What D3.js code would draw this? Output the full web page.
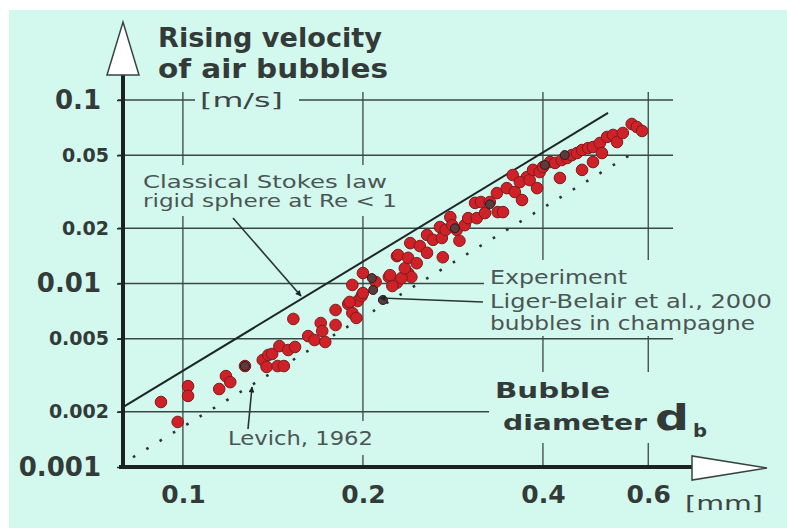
<!DOCTYPE html>
<html>
<head>
<meta charset="utf-8">
<script src="https://cdn.jsdelivr.net/npm/d3@7"></script>
<style>
body { margin: 0; background: #fff; }
svg { display: block; font-family: "DejaVu Sans", sans-serif; }
</style>
</head>
<body>
<div id="vis"></div>
<script>
const FRAME_WIDTH = 787;
const FRAME_HEIGHT = 531;
const MARGINS = {left: 123, right: 114, top: 100, bottom: 64};

const BG = "#d3f8ee";
const INK = "#27302e";
const SOFT = "#4b5553";

// measured bubbles (mm, m/s)
const bubbleDiameter = [0.0919, 0.098, 0.102, 0.102, 0.115, 0.118, 0.120, 0.127, 0.136, 0.138,
  0.139, 0.141, 0.144, 0.1475, 0.145, 0.150, 0.154, 0.153, 0.162, 0.166, 0.173, 0.170, 0.171,
  0.180, 0.180, 0.189, 0.192, 0.195, 0.196, 0.199, 0.192, 0.200, 0.210, 0.221, 0.228, 0.228,
  0.238, 0.241, 0.224, 0.200, 0.190, 0.222, 0.232, 0.235, 0.229, 0.238, 0.246, 0.240, 0.249,
  0.256, 0.272, 0.256, 0.262, 0.271, 0.269, 0.275, 0.280, 0.282, 0.287, 0.290, 0.296, 0.300,
  0.310, 0.320, 0.308, 0.315, 0.326, 0.335, 0.336, 0.348, 0.359, 0.356, 0.343, 0.369, 0.376,
  0.366, 0.380, 0.391, 0.385, 0.395, 0.400, 0.411, 0.419, 0.430, 0.439, 0.427, 0.447, 0.456,
  0.465, 0.465, 0.476, 0.485, 0.498, 0.502, 0.485, 0.512, 0.524, 0.532, 0.544, 0.563, 0.574, 0.586];
const risingVelocity = [0.00226, 0.00176, 0.00276, 0.00244, 0.00266, 0.00313, 0.0029, 0.00355, 0.00383, 0.00351,
  0.00408, 0.00413, 0.00355, 0.00355, 0.00456, 0.00434, 0.00451, 0.00641, 0.00517, 0.00492, 0.0048, 0.00609, 0.00551,
  0.00594, 0.00717, 0.00773, 0.00691, 0.00649, 0.00803, 0.00855, 0.00982, 0.0114, 0.0102, 0.01085, 0.0141, 0.0101,
  0.0114, 0.01085, 0.00969, 0.00887, 0.00793, 0.0111, 0.0107, 0.0121, 0.0143, 0.0138, 0.0129, 0.0166, 0.016,
  0.0147, 0.0139, 0.0184, 0.0173, 0.0177, 0.0203, 0.0196, 0.023, 0.0208, 0.0196, 0.0171, 0.0208, 0.0227,
  0.0227, 0.0242, 0.0275, 0.0278, 0.0278, 0.0311, 0.0245, 0.0331, 0.0315, 0.039, 0.0245, 0.0285, 0.038,
  0.0357, 0.0366, 0.0331, 0.0416, 0.0405, 0.0431, 0.0459, 0.0454, 0.0471, 0.0483, 0.0376, 0.0501, 0.0514,
  0.0534, 0.0416, 0.0547, 0.0554, 0.0583, 0.0514, 0.0459, 0.0629, 0.0645, 0.059, 0.0661, 0.074, 0.0713, 0.0678];

// darker overlapping bubbles
const darkDiameter = [0.127, 0.207, 0.208, 0.216, 0.285, 0.326, 0.403, 0.435];
const darkVelocity = [0.00355, 0.0107, 0.00922, 0.00813, 0.020, 0.027, 0.0442, 0.0501];

// theory lines, end points
const stokesD = [0.0794, 0.514];
const stokesV = [0.00212, 0.085];
const levichD = [0.0825, 0.575];
const levichV = [0.00113, 0.053];

const xTicks = [0.1, 0.2, 0.4, 0.6];
const xTickLabels = ["0.1", "0.2", "0.4", "0.6"];
const yTicks = [0.001, 0.002, 0.005, 0.01, 0.02, 0.05, 0.1];
const yTickLabels = ["0.001", "0.002", "0.005", "0.01", "0.02", "0.05", "0.1"];

const X0 = MARGINS.left, X1 = FRAME_WIDTH - MARGINS.right;
const Y0 = FRAME_HEIGHT - MARGINS.bottom, Y1 = MARGINS.top;

const svg = d3.select("#vis").append("svg")
  .attr("width", FRAME_WIDTH)
  .attr("height", FRAME_HEIGHT);

svg.append("rect")
  .attr("x", 9).attr("y", 10)
  .attr("width", FRAME_WIDTH - 9).attr("height", 518)
  .attr("fill", BG);

const X = d3.scaleLog().domain([0.0794, 0.66]).range([X0, X1]);
const Y = d3.scaleLog().domain([0.001, 0.1]).range([Y0, Y1]);

// grid
svg.append("g").selectAll("line").data(xTicks).enter().append("line")
  .attr("x1", d => X(d)).attr("x2", d => X(d))
  .attr("y1", Y1 - 8).attr("y2", Y0)
  .attr("stroke", "#3b4745").attr("stroke-width", 1.3);

svg.append("g").selectAll("line").data(yTicks.slice(1)).enter().append("line")
  .attr("x1", X0 - 5).attr("x2", X1)
  .attr("y1", d => Y(d)).attr("y2", d => Y(d))
  .attr("stroke", "#3b4745").attr("stroke-width", 1.3);

// y axis labels
const yAxis = svg.append("g")
  .attr("transform", "translate(" + X0 + ",0)")
  .call(d3.axisLeft(Y).tickValues(yTicks)
    .tickFormat((d, i) => yTickLabels[i]).tickSize(6).tickPadding(7));
yAxis.select(".domain").remove();
yAxis.selectAll("line").attr("stroke", INK).attr("stroke-width", 1.5);
yAxis.selectAll("text")
  .attr("fill", "#333b39")
  .attr("font-family", "DejaVu Sans")
  .attr("font-weight", "bold")
  .attr("font-size", (d, i) => (i % 3 == 0) ? 26 : 19)
  .attr("x", (d, i) => (i % 3 == 0) ? -22 : -14);

// x axis labels
const xAxis = svg.append("g")
  .attr("transform", "translate(0," + Y0 + ")")
  .call(d3.axisBottom(X).tickValues(xTicks)
    .tickFormat((d, i) => xTickLabels[i]).tickSize(0).tickPadding(18));
xAxis.select(".domain").remove();
xAxis.selectAll("text")
  .attr("fill", "#333b39")
  .attr("font-family", "DejaVu Sans")
  .attr("font-weight", "bold")
  .attr("font-size", 25);

// theory lines
const line = d3.line().x(d => X(d[0])).y(d => Y(d[1]));
svg.append("path")
  .attr("d", line(d3.zip(stokesD, stokesV)))
  .attr("stroke", "#1c2624").attr("stroke-width", 2).attr("fill", "none");
svg.append("path")
  .attr("d", line(d3.zip(levichD, levichV)))
  .attr("stroke", "#2a3634").attr("stroke-width", 2.6)
  .attr("stroke-dasharray", "2.6,13").attr("fill", "none");

// bubbles
svg.append("g").selectAll("circle")
  .data(d3.zip(bubbleDiameter, risingVelocity))
  .enter().append("circle")
  .attr("cx", d => X(d[0])).attr("cy", d => Y(d[1]))
  .attr("r", 5.8)
  .attr("fill", "#cf2128").attr("stroke", "#7d1c1e").attr("stroke-width", 1);

svg.append("g").selectAll("circle")
  .data(d3.zip(darkDiameter, darkVelocity))
  .enter().append("circle")
  .attr("cx", d => X(d[0])).attr("cy", d => Y(d[1]))
  .attr("r", 4.5)
  .attr("fill", "#5d3a3b").attr("stroke", "#2b1a1a").attr("stroke-width", 1);

// arrow marker
svg.append("defs").append("marker")
  .attr("id", "head").attr("viewBox", "0 0 10 10")
  .attr("refX", 9).attr("refY", 5)
  .attr("markerWidth", 9).attr("markerHeight", 6)
  .attr("markerUnits", "userSpaceOnUse")
  .attr("orient", "auto")
  .append("path").attr("d", "M0,0L10,5L0,10Z").attr("fill", "#1c2624");

// labels with a patch of background behind
function label(g, items, pad) {
  items.forEach(t => {
    g.append("text")
      .attr("x", t.x).attr("y", t.y)
      .attr("font-size", t.size)
      .attr("font-weight", t.bold ? "bold" : "normal")
      .attr("fill", t.color || SOFT)
      .attr("textLength", t.w).attr("lengthAdjust", "spacingAndGlyphs")
      .text(t.s);
  });
  const b = g.node().getBBox();
  g.insert("rect", "text")
    .attr("x", b.x - pad[3]).attr("y", b.y - pad[0])
    .attr("width", b.width + pad[1] + pad[3])
    .attr("height", b.height + pad[0] + pad[2])
    .attr("fill", BG);
}

label(svg.append("g"), [
  {s: "[m/s]", x: 200, y: 107, size: 20, w: 83, color: "#3c4644"}
], [2, 16, 2, 5]);

label(svg.append("g"), [
  {s: "Classical Stokes law", x: 143, y: 188, size: 17, w: 244},
  {s: "rigid sphere at Re < 1", x: 143, y: 207, size: 17, w: 254}
], [7, 4, 5, 4]);

label(svg.append("g"), [
  {s: "Experiment", x: 490, y: 284, size: 19, w: 137},
  {s: "Liger-Belair et al., 2000", x: 490, y: 308, size: 19, w: 282},
  {s: "bubbles in champagne", x: 490, y: 330, size: 19, w: 265}
], [6, 4, 2, 6]);

label(svg.append("g"), [
  {s: "Levich, 1962", x: 228, y: 445, size: 19, w: 145}
], [6, 4, 6, 4]);

label(svg.append("g"), [
  {s: "Bubble", x: 495, y: 398, size: 22, w: 115, bold: true, color: "#333b39"},
  {s: "diameter", x: 503, y: 430, size: 22, w: 144, bold: true, color: "#333b39"},
  {s: "d", x: 655, y: 430, size: 36, w: 34, bold: true, color: "#333b39"},
  {s: "b", x: 693, y: 437, size: 17, w: 14, bold: true, color: "#333b39"}
], [6, 6, 2, 6]);

svg.append("text").attr("x", 158).attr("y", 47)
  .attr("font-size", 27).attr("font-weight", "bold").attr("fill", "#333b39")
  .attr("textLength", 224).attr("lengthAdjust", "spacingAndGlyphs")
  .text("Rising velocity");
svg.append("text").attr("x", 158).attr("y", 78)
  .attr("font-size", 27).attr("font-weight", "bold").attr("fill", "#333b39")
  .attr("textLength", 230).attr("lengthAdjust", "spacingAndGlyphs")
  .text("of air bubbles");
svg.append("text").attr("x", 685).attr("y", 510)
  .attr("font-size", 20).attr("fill", "#3c4644")
  .attr("textLength", 78).attr("lengthAdjust", "spacingAndGlyphs")
  .text("[mm]");

// pointers
const pointers = [
  [[233, 218], [301, 296]],
  [[248, 429], [252, 387]],
  [[483, 302], [380, 298]]
];
svg.append("g").selectAll("line").data(pointers).enter().append("line")
  .attr("x1", d => d[0][0]).attr("y1", d => d[0][1])
  .attr("x2", d => d[1][0]).attr("y2", d => d[1][1])
  .attr("stroke", "#2a3432").attr("stroke-width", 1.6)
  .attr("marker-end", "url(#head)");

// axes with open arrow heads
svg.append("line").attr("x1", X0).attr("x2", X0).attr("y1", 74).attr("y2", Y0 + 2)
  .attr("stroke", "#1c2220").attr("stroke-width", 4);
svg.append("line").attr("x1", X0 - 4).attr("x2", 693).attr("y1", Y0).attr("y2", Y0)
  .attr("stroke", "#1c2220").attr("stroke-width", 4);
svg.append("polygon").attr("points", "107,75 139,75 123,22")
  .attr("fill", "#fff").attr("stroke", "#3a4240").attr("stroke-width", 1.5);
svg.append("polygon").attr("points", "692,456 692,480 767,468")
  .attr("fill", "#fff").attr("stroke", "#3a4240").attr("stroke-width", 1.5);
</script>
</body>
</html>
